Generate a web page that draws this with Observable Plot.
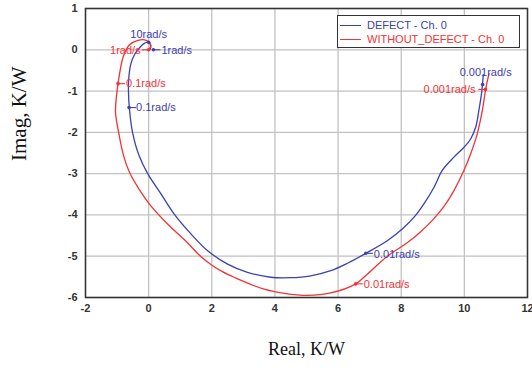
<!DOCTYPE html>
<html>
<head>
<meta charset="utf-8">
<script src="https://cdn.jsdelivr.net/npm/d3@7"></script>
<script src="https://cdn.jsdelivr.net/npm/@observablehq/plot@0.6"></script>
<style>
  body { margin: 0; background: #fff; }
  #wrap { position: relative; width: 532px; height: 368px; overflow: hidden; }
  #legend { position: absolute; left: 337px; top: 15px; width: 181px; height: 31px;
    border: 1.5px solid #333; background: #fff; font-family: "Liberation Sans", Arial, sans-serif; font-size: 11px; }
  .row { position: absolute; left: 2px; height: 12px; display: flex; align-items: center; white-space: nowrap; }
  .sw { width: 21px; height: 0; border-top: 1.3px solid; margin-right: 6px; }
</style>
</head>
<body>
<div id="wrap"></div>
<script>
// ---- data ----
const seriesNames = ["DEFECT - Ch. 0", "WITHOUT_DEFECT - Ch. 0"];
const seriesColors = ["#3c40b0", "#f23236"];

const blueRe = [10.6, 10.55, 10.46, 10.36, 10.2, 9.99, 9.67, 9.3, 9.04, 8.72, 8.4, 8.05, 7.57, 6.88, 6.3, 5.77, 5.1, 4.5, 3.87, 3.13, 2.5, 1.87, 1.34, 0.81, 0.39, -0.03, -0.31, -0.51, -0.6, -0.64, -0.62, -0.56, -0.45, -0.34, -0.15, 0.0, 0.07, 0.03];
const blueIm = [-0.6, -1.02, -1.47, -1.87, -2.16, -2.36, -2.6, -2.92, -3.33, -3.73, -4.06, -4.33, -4.62, -4.93, -5.17, -5.35, -5.48, -5.52, -5.51, -5.39, -5.19, -4.87, -4.46, -3.98, -3.49, -3.0, -2.55, -2.0, -1.5, -1.0, -0.6, -0.33, -0.12, 0.0, 0.15, 0.18, 0.07, 0.0];

const redRe = [10.78, 10.67, 10.57, 10.41, 10.2, 9.99, 9.67, 9.35, 9.0, 8.6, 8.2, 7.56, 6.95, 6.56, 5.77, 5.04, 4.3, 3.66, 2.71, 2.35, 1.97, 1.6, 1.2, 0.6, 0.07, -0.3, -0.6, -0.8, -0.95, -1.05, -1.0, -0.97, -0.81, -0.62, -0.34, -0.08, 0.07, 0.0];
const redIm = [-0.58, -0.98, -1.47, -2.03, -2.52, -2.92, -3.41, -3.8, -4.12, -4.42, -4.67, -5.0, -5.42, -5.67, -5.89, -5.95, -5.9, -5.8, -5.51, -5.38, -5.2, -4.97, -4.65, -4.22, -3.78, -3.38, -2.98, -2.55, -2.0, -1.5, -1.0, -0.82, -0.18, 0.11, 0.23, 0.23, 0.11, 0.0];

const freqLabels = ["0.001rad/s", "0.01rad/s", "0.1rad/s", "1rad/s", "10rad/s",
                    "0.001rad/s", "0.01rad/s", "0.1rad/s", "1rad/s"];
const freqSeries = [0, 0, 0, 0, 0, 1, 1, 1, 1];
const freqRe = [10.58, 6.88, -0.62, 0.15, 0.0, 10.67, 6.56, -0.97, 0.0];
const freqIm = [-0.84, -4.93, -1.4, 0.0, 0.18, -0.96, -5.67, -0.82, 0.0];

const xTicks = [-2, 0, 2, 4, 6, 8, 10, 12];
const yTicks = [-6, -5, -4, -3, -2, -1, 0, 1];

// ---- layout (pixel offsets for frequency annotations) ----
const labelLayout = [
  {dx: 3, dy: -12, anchor: "middle", dash: 0},
  {dx: 8, dy: 1, anchor: "start", dash: 1},
  {dx: 7, dy: 0, anchor: "start", dash: 1},
  {dx: 8, dy: 1, anchor: "start", dash: 1},
  {dx: 0, dy: -8, anchor: "middle", dash: 0},
  {dx: -10, dy: 0, anchor: "end", dash: -1},
  {dx: 8, dy: 1, anchor: "start", dash: 1},
  {dx: 8, dy: 0, anchor: "start", dash: 1},
  {dx: -8, dy: 1, anchor: "end", dash: -1}
];

const W = 532, H = 368, mL = 85, mR = 5, mT = 8, mB = 71;
const xDomain = [-2, 12], yDomain = [-6, 1];
const unitPerPx = (xDomain[1] - xDomain[0]) / (W - mL - mR);

const blue = blueRe.map((re, i) => ({re, im: blueIm[i]}));
const red = redRe.map((re, i) => ({re, im: redIm[i]}));
const freq = freqLabels.map((label, i) => ({label, s: freqSeries[i], re: freqRe[i], im: freqIm[i], ...labelLayout[i]}));

const annot = freq.flatMap(f => {
  const col = seriesColors[f.s];
  const m = [
    Plot.dot([f], {x: "re", y: "im", r: 1.8, fill: col, stroke: null}),
    Plot.text([f], {x: "re", y: "im", text: "label", dx: f.dx, dy: f.dy, textAnchor: f.anchor,
      fill: col, fontSize: 11, fontFamily: "Liberation Sans, Arial, sans-serif"})
  ];
  if (f.dash) m.push(Plot.link([f], {x1: "re", y1: "im", x2: d => d.re + d.dash * 7 * unitPerPx, y2: "im",
      stroke: col, strokeWidth: 1.1}));
  return m;
});

const plot = Plot.plot({
  width: W, height: H,
  marginLeft: mL, marginRight: mR, marginTop: mT, marginBottom: mB,
  x: {domain: xDomain},
  y: {domain: yDomain},
  style: {fontFamily: "Liberation Sans, Arial, sans-serif", fontSize: "11px", color: "#333", background: "#fff", overflow: "visible"},
  marks: [
    Plot.gridX(xTicks, {stroke: "#c2c2c2", strokeOpacity: 1, strokeWidth: 1.3}),
    Plot.gridY(yTicks, {stroke: "#c2c2c2", strokeOpacity: 1, strokeWidth: 1.3}),
    Plot.axisX(xTicks, {tickSize: 0, tickPadding: 7, tickFormat: d => String(d), label: null, fontWeight: "bold"}),
    Plot.axisY(yTicks, {tickSize: 0, tickPadding: 8, tickFormat: d => String(d), label: null, fontWeight: "bold"}),
    Plot.line(blue, {x: "re", y: "im", stroke: seriesColors[0], strokeWidth: 1.3, curve: "catmull-rom"}),
    Plot.line(red, {x: "re", y: "im", stroke: seriesColors[1], strokeWidth: 1.3, curve: "catmull-rom"}),
    ...annot,
    Plot.frame({stroke: "#333", strokeWidth: 1.5}),
    Plot.text(["Real, K/W"], {text: d => d, frameAnchor: "bottom", dy: 57, fontFamily: "Liberation Serif, Times New Roman, serif", fontSize: 18, fill: "#111"}),
    Plot.text(["Imag, K/W"], {text: d => d, frameAnchor: "left", dx: -66, dy: 8, rotate: -90, fontFamily: "Liberation Serif, Times New Roman, serif", fontSize: 21, fill: "#111"})
  ]
});

const wrap = document.getElementById("wrap");
wrap.appendChild(plot);

// legend inside the plot area (top-right)
const legend = document.createElement("div");
legend.id = "legend";
seriesNames.forEach((name, i) => {
  const row = document.createElement("div");
  row.className = "row";
  row.style.top = (i === 0 ? 3 : 17) + "px";
  row.style.color = seriesColors[i];
  const sw = document.createElement("span");
  sw.className = "sw";
  sw.style.borderTopColor = seriesColors[i];
  row.appendChild(sw);
  row.appendChild(document.createTextNode(name));
  legend.appendChild(row);
});
wrap.appendChild(legend);
</script>
</body>
</html>
